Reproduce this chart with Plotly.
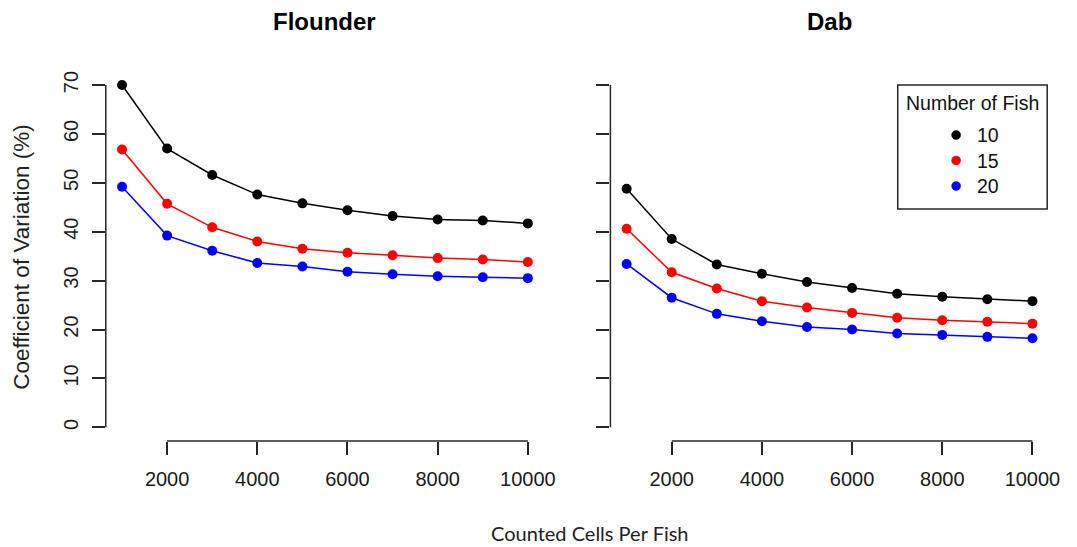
import plotly.graph_objects as go

# ---------------- data ----------------
cells = [1000, 2000, 3000, 4000, 5000, 6000, 7000, 8000, 9000, 10000]
fish_labels = ["10", "15", "20"]
series_colors = ["#000000", "#FF0000", "#0000FF"]

flounder_10 = [70.0, 57.0, 51.6, 47.6, 45.8, 44.4, 43.2, 42.5, 42.3, 41.7]
flounder_15 = [56.8, 45.7, 40.9, 38.0, 36.5, 35.7, 35.2, 34.6, 34.3, 33.8]
flounder_20 = [49.2, 39.2, 36.1, 33.6, 32.9, 31.8, 31.3, 30.9, 30.7, 30.5]

dab_10 = [48.8, 38.5, 33.3, 31.4, 29.7, 28.5, 27.3, 26.7, 26.2, 25.8]
dab_15 = [40.6, 31.7, 28.4, 25.8, 24.5, 23.4, 22.4, 21.9, 21.6, 21.2]
dab_20 = [33.4, 26.5, 23.2, 21.7, 20.5, 20.0, 19.2, 18.9, 18.5, 18.2]

x_ticks = [2000, 4000, 6000, 8000, 10000]
y_ticks = [0, 10, 20, 30, 40, 50, 60, 70]
panel_titles = ["Flounder", "Dab"]
x_title = "Counted Cells Per Fish"
y_title = "Coefficient of Variation (%)"
legend_title = "Number of Fish"

# ---------------- layout helpers ----------------
W, H = 1077, 547
def px(x):
    return x / W
def py(y):
    return 1 - y / H

AX = "#262626"
FONT = "Liberation Sans, Arial, sans-serif"

fig = go.Figure()

panels = [
    ("x", "y", [flounder_10, flounder_15, flounder_20]),
    ("x2", "y2", [dab_10, dab_15, dab_20]),
]
for xa, ya, data in panels:
    for vals, col, lab in zip(data, series_colors, fish_labels):
        fig.add_trace(go.Scatter(
            x=cells, y=vals, xaxis=xa, yaxis=ya, mode="lines+markers",
            name=lab, showlegend=False, hoverinfo="skip",
            line=dict(color=col, width=1.5),
            marker=dict(color=col, size=10),
        ))

x_range = [cells[0] - 0.04 * (cells[-1] - cells[0]), cells[-1] + 0.04 * (cells[-1] - cells[0])]
y_range = [y_ticks[0] - 0.04 * (y_ticks[-1] - y_ticks[0]), y_ticks[-1] + 0.04 * (y_ticks[-1] - y_ticks[0])]

ydom = [py(441), py(71.3)]
xdom1 = [px(106.9), px(549.7)]
xdom2 = [px(616.7), px(1059.5)]

common_x = dict(range=x_range, tickvals=x_ticks, ticktext=[str(t) for t in x_ticks],
                ticks="outside", ticklen=13, tickwidth=1.5, tickcolor=AX,
                showgrid=False, zeroline=False, showline=False, fixedrange=True,
                tickfont=dict(family=FONT, size=20, color="#1a1a1a"),
                ticklabelstandoff=7)
common_y = dict(range=y_range, tickvals=y_ticks, ticktext=[str(t) for t in y_ticks],
                ticks="outside", ticklen=13, tickwidth=1.5, tickcolor=AX,
                showgrid=False, zeroline=False, showline=False, tickangle=-90, fixedrange=True,
                tickfont=dict(family=FONT, size=20, color="#1a1a1a"),
                ticklabelstandoff=6)

fig.update_layout(
    width=W, height=H, autosize=False,
    margin=dict(l=0, r=0, t=0, b=0),
    paper_bgcolor="white", plot_bgcolor="white",
    showlegend=False,
    xaxis=dict(domain=xdom1, anchor="y", **common_x),
    yaxis=dict(domain=ydom, anchor="x", **common_y),
    xaxis2=dict(domain=xdom2, anchor="y2", **common_x),
    yaxis2=dict(domain=ydom, anchor="x2", showticklabels=False,
                **{k: v for k, v in common_y.items() if k not in ("tickfont", "tickangle", "ticklabelstandoff")}),
)

shapes = []
# R-style axis lines spanning only the tick range
for xr, yr in [("x", "y"), ("x2", "y2")]:
    shapes.append(dict(type="line", xref=xr, yref=f"{yr} domain",
                       x0=x_ticks[0], x1=x_ticks[-1], y0=0, y1=0,
                       line=dict(color=AX, width=1.5)))
    shapes.append(dict(type="line", xref=f"{xr} domain", yref=yr,
                       x0=0, x1=0, y0=y_ticks[0], y1=y_ticks[-1],
                       line=dict(color=AX, width=1.5)))

# legend box
shapes.append(dict(type="rect", xref="paper", yref="paper",
                   x0=px(907), x1=px(1058), y0=py(209), y1=py(85),
                   line=dict(color=AX, width=1.5), fillcolor="white"))
annotations = [
    dict(text=legend_title, x=px(982.5), y=py(103.5), xref="paper", yref="paper",
         showarrow=False, xanchor="center", yanchor="middle",
         font=dict(family=FONT, size=19.5, color="#111")),
]
leg_y = [135, 160.5, 186]
for lab, col, yy in zip(fish_labels, series_colors, leg_y):
    shapes.append(dict(type="circle", xref="paper", yref="paper",
                       xsizemode="pixel", ysizemode="pixel",
                       xanchor=px(966), yanchor=py(yy),
                       x0=-4.5, x1=4.5, y0=-4.5, y1=4.5,
                       fillcolor=col, line=dict(color=col, width=0.5)))
    annotations.append(dict(text=lab, x=px(985), y=py(yy), xref="paper", yref="paper",
                            showarrow=False, xanchor="left", yanchor="middle",
                            font=dict(family=FONT, size=19.5, color="#111")))

# titles
annotations.append(dict(text=f"<b>{panel_titles[0]}</b>", x=px(328.3), y=py(21), xref="paper", yref="paper",
                        showarrow=False, xanchor="center", yanchor="middle",
                        font=dict(family=FONT, size=24, color="#000")))
annotations.append(dict(text=f"<b>{panel_titles[1]}</b>", x=px(838), y=py(21), xref="paper", yref="paper",
                        showarrow=False, xanchor="center", yanchor="middle",
                        font=dict(family=FONT, size=24, color="#000")))
annotations.append(dict(text=x_title, x=px(596.5), y=py(533), xref="paper", yref="paper",
                        showarrow=False, xanchor="center", yanchor="middle",
                        font=dict(family="Lato, Open Sans, sans-serif", size=20, color="#222")))
annotations.append(dict(text=y_title, x=px(21), y=py(257), xref="paper", yref="paper",
                        showarrow=False, xanchor="center", yanchor="middle", textangle=-90,
                        font=dict(family=FONT, size=22.5, color="#222")))

fig.update_layout(shapes=shapes, annotations=annotations)
fig.write_html(
    "out.html",
    config={"displayModeBar": False},
    post_script="document.body.style.margin='0';document.body.style.overflow='hidden';"
                "document.documentElement.style.overflow='hidden';",
)
